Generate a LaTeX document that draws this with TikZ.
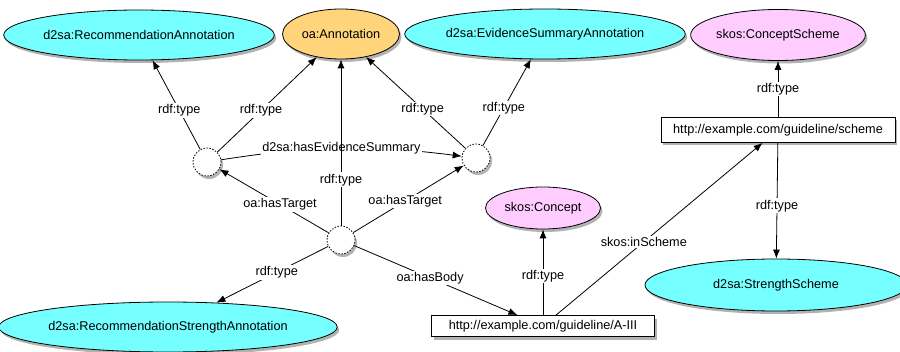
\documentclass[tikz,border=0pt]{standalone}
\usepackage{fontspec}
\setmainfont{Liberation Sans}
\usetikzlibrary{shapes.geometric,shadows,arrows.meta}
\definecolor{clscyan}{RGB}{117,255,255}
\definecolor{clsorange}{RGB}{255,212,122}
\definecolor{clspink}{RGB}{255,204,255}
\begin{document}
\begin{tikzpicture}[x=1pt, y=1pt, line width=0.8pt,
    font=\fontsize{12.7}{15}\selectfont,
    shd/.style={drop shadow={shadow xshift=2pt, shadow yshift=-3pt, opacity=0.3, fill=black}},
    cls/.style={ellipse, draw, shd, inner sep=0pt},
    blank/.style={circle, draw, fill=white, shd, dash pattern=on 1.5pt off 1.5pt, minimum size=28pt, inner sep=0pt},
    uri/.style={rectangle, draw, fill=white, shd, inner sep=0pt},
    lbl/.style={fill=white, inner sep=1.5pt},
    rel/.style={-{Latex[length=9pt, width=7pt]}}]
  \useasboundingbox (0, 0) rectangle (900, 351);
  % klasi
  \node [cls, fill=clscyan, minimum width=258pt, minimum height=50pt] (rann) at (139, 316) {d2sa:RecommendationAnnotation};
  \node [cls, fill=clsorange, minimum width=117pt, minimum height=50pt] (ann) at (341, 317) {oa:Annotation};
  \node [cls, fill=clscyan, minimum width=266pt, minimum height=50pt] (esann) at (545, 317) {d2sa:EvidenceSummaryAnnotation};
  \node [cls, fill=clspink, minimum width=170pt, minimum height=51pt] (cscheme) at (778, 316) {skos:ConceptScheme};
  \node [cls, fill=clspink, minimum width=115pt, minimum height=42pt] (concept) at (543, 143) {skos:Concept};
  \node [cls, fill=clscyan, minimum width=262pt, minimum height=52pt] (sscheme) at (776, 66) {d2sa:StrengthScheme};
  \node [cls, fill=clscyan, minimum width=315pt, minimum height=50pt] (rsann) at (168, 24) {d2sa:RecommendationStrengthAnnotation};
  % viri
  \node [uri, minimum width=223pt, minimum height=21pt] (body) at (543, 25) {http://example.com/guideline/A-III};
  \node [uri, minimum width=234pt, minimum height=25pt] (scheme) at (778, 221) {http://example.com/guideline/scheme};
  % prazna vozlisca
  \node [blank] (b1) at (207, 189) {};
  \node [blank] (b2) at (476, 193) {};
  \node [blank] (b0) at (341, 111) {};
  % povezave
  \draw [rel] (b1) -- node [lbl, pos=0.44] {rdf:type} (rann);
  \draw [rel] (b1) -- node [lbl, pos=0.44] {rdf:type} (ann);
  \draw [rel] (b1) to [bend left=8] node [lbl, pos=0.5] {d2sa:hasEvidenceSummary} (b2);
  \draw [rel] (b2) -- node [lbl, pos=0.43] {rdf:type} (ann);
  \draw [rel] (b2) -- node [lbl, pos=0.435] {rdf:type} (esann);
  \draw [rel] (b0) -- node [lbl, pos=0.275] {rdf:type} (ann);
  \draw [rel] (b0) -- node [lbl, pos=0.445] {oa:hasTarget} (b1);
  \draw [rel] (b0) -- node [lbl, pos=0.47] {oa:hasTarget} (b2);
  \draw [rel] (b0) -- node [lbl, pos=0.46] {rdf:type} (rsann);
  \draw [rel] (b0) -- node [lbl, pos=0.465] {oa:hasBody} (body);
  \draw [rel] (body) -- node [lbl, pos=0.457] {rdf:type} (concept);
  \draw [rel] (body) -- node [lbl, pos=0.425] {skos:inScheme} (scheme);
  \draw [rel] (scheme) -- node [lbl, pos=0.5] {rdf:type} (cscheme);
  \draw [rel] (scheme) -- node [lbl, pos=0.544] {rdf:type} (sscheme);
\end{tikzpicture}
\end{document}
